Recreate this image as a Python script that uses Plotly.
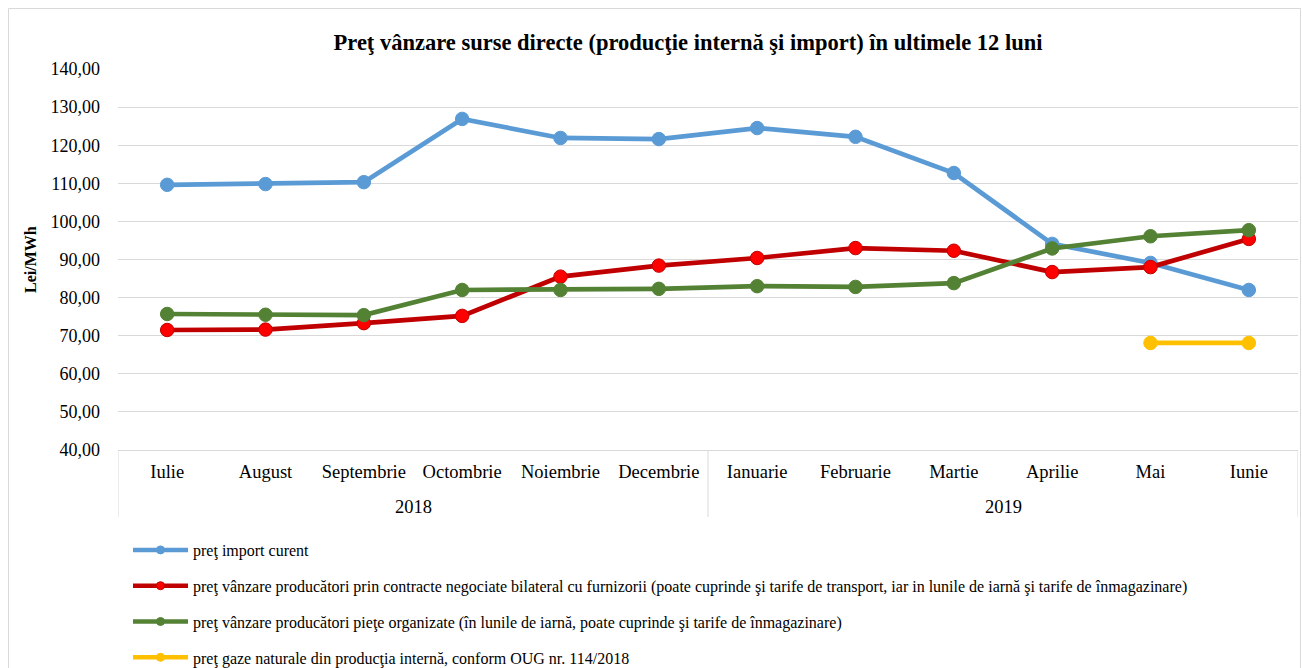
import plotly.graph_objects as go

months = ["Iulie", "August", "Septembrie", "Octombrie", "Noiembrie", "Decembrie",
          "Ianuarie", "Februarie", "Martie", "Aprilie", "Mai", "Iunie"]
years = ["2018"] * 6 + ["2019"] * 6

import_curent = [109.6, 109.8, 110.3, 126.9, 121.9, 121.6, 124.5, 122.2, 112.7, 94.1, 89.1, 82.0]
bilateral = [71.5, 71.6, 73.3, 75.2, 85.5, 88.4, 90.4, 93.0, 92.3, 86.7, 88.0, 95.4]
piete_organizate = [75.7, 75.5, 75.4, 82.0, 82.0, 82.3, 83.0, 82.8, 83.8, 92.9, 96.1, 97.7]
productie_interna = [None] * 10 + [68.1, 68.1]

names = [
    "preţ import curent",
    "preţ vânzare producători prin contracte negociate bilateral cu furnizorii (poate cuprinde şi tarife de transport, iar in lunile de iarnă şi tarife de înmagazinare)",
    "preţ vânzare producători pieţe organizate (în lunile de iarnă, poate cuprinde şi tarife de înmagazinare)",
    "preţ gaze naturale din producţia internă, conform OUG nr. 114/2018",
]

series = [import_curent, bilateral, piete_organizate, productie_interna]
line_colors = ["#5b9bd5", "#c00000", "#548235", "#ffc000"]
marker_colors = ["#5b9bd5", "#ff0000", "#548235", "#ffc000"]
marker_lines = ["#5b9bd5", "#c00000", "#548235", "#ffc000"]

FONT = "Liberation Serif"

fig = go.Figure()
for i, (vals, nm) in enumerate(zip(series, names)):
    fig.add_trace(go.Scatter(
        x=months, y=vals, name=nm, mode="lines+markers",
        line=dict(color=line_colors[i], width=4.7),
        marker=dict(size=13.5, color=marker_colors[i], line=dict(color=marker_lines[i], width=1)),
        showlegend=False,
        connectgaps=False,
    ))
# legend entries (smaller markers, as in the reference legend)
for i, nm in enumerate(names):
    fig.add_trace(go.Scatter(
        x=months[:1], y=[None], name=nm, mode="lines+markers",
        line=dict(color=line_colors[i], width=4.5),
        marker=dict(size=8, color=marker_colors[i], line=dict(color=marker_lines[i], width=1)),
        legendgroup=str(i), showlegend=True, hoverinfo="skip",
    ))

W, H = 1302, 668
ml, mr, mt, mb = 118, 4, 69, 218
pw = W - ml - mr
ph = H - mt - mb

def px_x(p):
    return (p - ml) / pw

def px_y(p):
    return (H - mb - p) / ph

# year groups -> label positions and dividers (from the category indices)
groups = []
for idx, yr in enumerate(years):
    if not groups or groups[-1][0] != yr:
        groups.append([yr, idx, idx])
    else:
        groups[-1][2] = idx

annotations = [dict(
    text="<b>Lei/MWh</b>", textangle=-90,
    x=px_x(30), y=px_y(260), xref="paper", yref="paper",
    xanchor="center", yanchor="middle", showarrow=False,
    font=dict(family=FONT, size=16, color="#000000"),
)]
shapes = [dict(
    type="rect", xref="paper", yref="paper",
    x0=px_x(8.5), x1=px_x(1300.5), y0=px_y(720), y1=px_y(8.5),
    line=dict(color="#d9d9d9", width=1), fillcolor="rgba(0,0,0,0)", layer="below",
)]
div_pos = set()
for yr, a, b in groups:
    annotations.append(dict(
        text=yr, x=(a + b) / 2, y=px_y(507), xref="x", yref="paper",
        xanchor="center", yanchor="middle", showarrow=False,
        font=dict(family=FONT, size=18.5, color="#000000"),
    ))
    div_pos.add(a - 0.5)
    div_pos.add(b + 0.5)
for d in sorted(div_pos):
    shapes.append(dict(
        type="line", xref="x", yref="paper", x0=d, x1=d, y0=0, y1=px_y(517),
        line=dict(color="#d9d9d9", width=1),
    ))

fig.update_layout(
    width=W, height=H,
    margin=dict(l=ml, r=mr, t=mt, b=mb, autoexpand=False),
    paper_bgcolor="white", plot_bgcolor="white",
    separators=",.",
    font=dict(family=FONT, color="#000000", size=18),
    title=dict(
        text="<b>Preţ vânzare surse directe (producţie internă şi import) în ultimele 12 luni</b>",
        x=688 / W, xref="container", xanchor="center",
        y=1 - 42 / H, yref="container", yanchor="middle",
        font=dict(family=FONT, size=22.5, color="#000000"),
    ),
    xaxis=dict(
        type="category",
        range=[-0.5, 11.5],
        showgrid=False,
        showline=True, linecolor="#d9d9d9", linewidth=1,
        tickfont=dict(family=FONT, size=18.5, color="#000000"),
        ticks="",
        automargin=False,
        ticklabelstandoff=5,
    ),
    yaxis=dict(
        range=[40, 140], dtick=10, tick0=40,
        tickformat=".2f",
        showgrid=True, gridcolor="#d9d9d9", gridwidth=1,
        zeroline=False, showline=False,
        tickfont=dict(family=FONT, size=18, color="#000000"),
        ticks="", automargin=False,
        ticklabelstandoff=17,
    ),
    legend=dict(
        x=px_x(128), y=px_y(533), xanchor="left", yanchor="top",
        orientation="v",
        font=dict(family=FONT, size=16, color="#000000"),
        itemwidth=55,
        tracegroupgap=12,
        bgcolor="rgba(0,0,0,0)",
    ),
    showlegend=True,
    annotations=annotations,
    shapes=shapes,
)

fig.write_html("out.html", config={"displayModeBar": False},
               post_script="document.body.style.margin='0';")
